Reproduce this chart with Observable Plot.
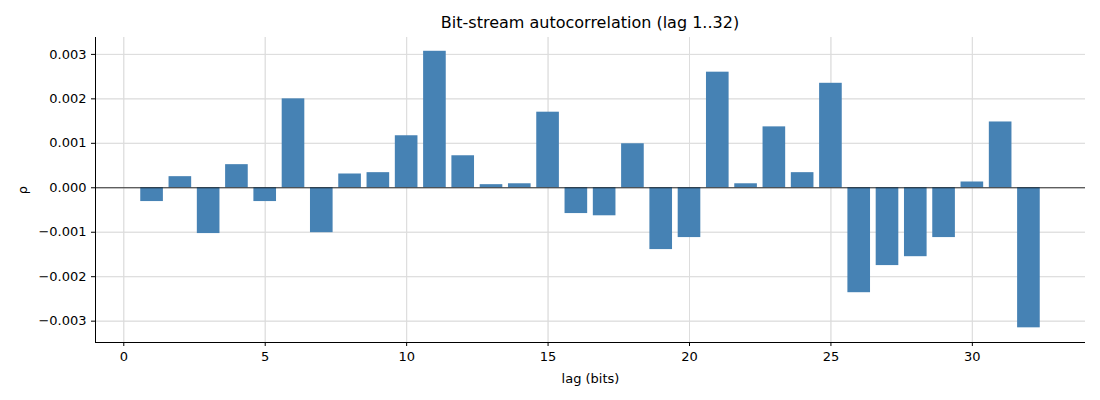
<!DOCTYPE html>
<html><head><meta charset="utf-8">
<script src="https://cdn.jsdelivr.net/npm/d3@7"></script>
<script src="https://cdn.jsdelivr.net/npm/@observablehq/plot@0.6"></script>
<style>body{margin:0;font-family:"DejaVu Sans",sans-serif;background:#fff}
#t{height:30px;line-height:30px;text-align:center;font-size:16px;padding-left:80px;box-sizing:border-box;padding-top:8px}</style>
</head><body>
<div id="t">Bit-stream autocorrelation (lag 1..32)</div>
<div id="c"></div>
<script>
const lags = d3.range(1, 33);
const rho = [-0.00031,0.00025,-0.00103,0.00052,-0.00031,0.0020,-0.00101,0.00031,0.00034,0.00117,0.00307,0.00072,0.00007,0.00009,0.0017,-0.00058,-0.00063,0.00099,-0.00139,-0.00112,0.0026,0.00009,0.00137,0.00034,0.00235,-0.00236,-0.00175,-0.00155,-0.00112,0.00013,0.00148,-0.00315];
const xTicks = [0,5,10,15,20,25,30];
const yTicks = [-0.003,-0.002,-0.001,0,0.001,0.002,0.003];
const data = lags.map((l,i)=>({lag:l, rho:rho[i]}));
const chart = Plot.plot({
  width:1100, height:370, marginLeft:95, marginRight:15, marginTop:7, marginBottom:58,
  style:{fontFamily:"DejaVu Sans, sans-serif", fontSize:"13px", color:"#000"},
  x:{domain:[-1,34], ticks:xTicks, label:"lag (bits)", labelAnchor:"center", labelArrow:"none", labelOffset:44, grid:true},
  y:{domain:[-0.00348,0.00338], ticks:yTicks, tickFormat:d=>(d<0?"\u2212":"")+Math.abs(d).toFixed(3), label:"ρ", labelAnchor:"center", labelArrow:"none", labelOffset:75, grid:true},
  marks:[
    Plot.gridX(xTicks,{stroke:"#ddd", strokeOpacity:1}),
    Plot.gridY(yTicks,{stroke:"#ddd", strokeOpacity:1}),
    Plot.rectY(data,{x1:d=>d.lag-0.4, x2:d=>d.lag+0.4, y1:0, y2:"rho", fill:"#4682b4"}),
    Plot.ruleY([0],{stroke:"#000", strokeWidth:0.8}),
    Plot.axisX({ticks:xTicks, tickSize:4, fontSize:13, label:"lag (bits)", labelAnchor:"center", labelArrow:"none", labelOffset:40}),
    Plot.axisY({ticks:yTicks, tickSize:4, fontSize:13, tickFormat:d=>(d<0?"\u2212":"")+Math.abs(d).toFixed(4).slice(0,-1), label:"ρ", labelAnchor:"center", labelArrow:"none", labelOffset:78}),
    Plot.ruleX([-1],{stroke:"#000"}),
    Plot.ruleY([-0.00348],{stroke:"#000"})
  ]
});
document.getElementById("c").appendChild(chart);
</script></body></html>
